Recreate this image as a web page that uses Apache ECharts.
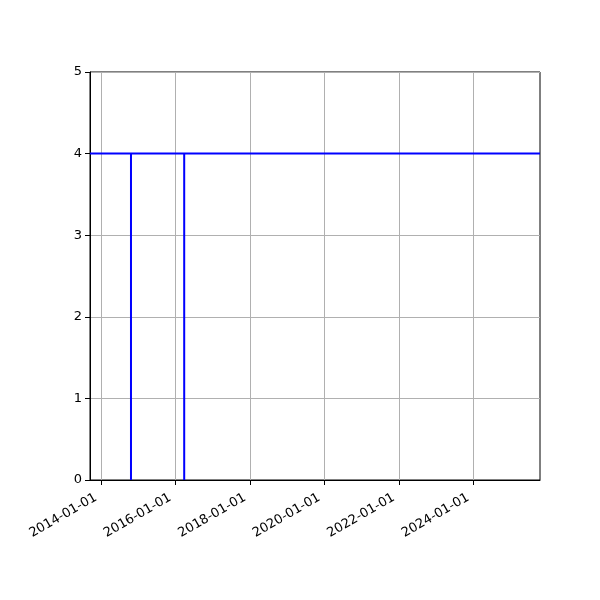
<!DOCTYPE html>
<html>
<head>
<meta charset="utf-8">
<script src="https://cdn.jsdelivr.net/npm/echarts@6/dist/echarts.min.js"></script>
<style>html,body{margin:0;padding:0;background:#fff}#c{width:600px;height:600px}</style>
</head>
<body>
<div id="c"></div>
<script>
const dates = ['2013-09-12','2014-10-19','2014-10-19','2014-10-19','2016-03-24','2016-03-24','2016-03-24','2025-10-13'];
const values = [4,4,0,4,4,0,4,4];
const tickDates = ['2014-01-01','2016-01-01','2018-01-01','2020-01-01','2022-01-01','2024-01-01'];
const xMin = '2013-09-12';
const xMax = '2025-10-13';
const yTicks = [0,1,2,3,4,5];

function ts(s){const p=s.split('-').map(Number);return Date.UTC(p[0],p[1]-1,p[2]);}
function fmt(v){const d=new Date(v);const m=('0'+(d.getUTCMonth()+1)).slice(-2);const dd=('0'+d.getUTCDate()).slice(-2);return d.getUTCFullYear()+'-'+m+'-'+dd;}
const tickTs = tickDates.map(ts);
const seriesData = dates.map((d,i)=>[ts(d), values[i]]);
const font = 'DejaVu Sans';
const chart = echarts.init(document.getElementById('c'));
chart.setOption({
  animation:false,
  grid:{left:90,right:60,top:72,bottom:120,show:true,borderColor:'#000',borderWidth:1,backgroundColor:'transparent'},
  xAxis:{
    type:'value', min:ts(xMin), max:ts(xMax),
    axisLine:{show:true,lineStyle:{color:'#000',width:1}},
    axisTick:{show:true,inside:false,length:5,lineStyle:{color:'#000'},customValues:tickTs},
    axisLabel:{customValues:tickTs,rotate:30,color:'#000',fontFamily:font,fontSize:13,margin:6,
      align:'right',verticalAlign:'top',padding:[0,10,0,0],
      showMinLabel:true,showMaxLabel:true,hideOverlap:false,
      formatter:function(v){return fmt(v);}},
    splitLine:{show:false}
  },
  yAxis:{
    type:'value', min:yTicks[0], max:yTicks[yTicks.length-1], interval:1,
    axisLine:{show:true,lineStyle:{color:'#000',width:1}},
    axisTick:{show:true,length:5,lineStyle:{color:'#000'}},
    axisLabel:{color:'#000',fontFamily:font,fontSize:13,margin:8},
    splitLine:{show:true,lineStyle:{color:'#b0b0b0',width:1}}
  },
  series:[
    {type:'line',data:seriesData,showSymbol:false,symbol:'none',lineStyle:{color:'#0000ff',width:2},z:3,
     markLine:{silent:true,symbol:'none',label:{show:false},lineStyle:{color:'#b0b0b0',width:1,type:'solid'},z:1,
       data:tickTs.map(t=>({xAxis:t}))}}
  ]
});
</script>
</body>
</html>
